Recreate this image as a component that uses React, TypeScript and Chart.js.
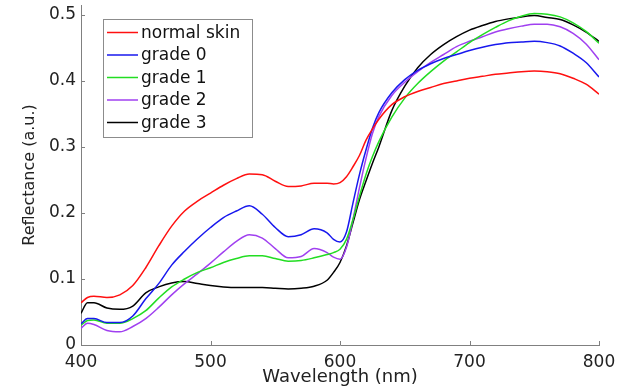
import React, { useEffect, useRef } from "react";
import { Chart, registerables } from "chart.js";

Chart.register(...registerables);

const wavelengths = [400, 405, 410, 420, 430, 440, 450, 460, 470, 480, 490, 500, 510, 520, 530, 540, 550, 560, 570, 580, 590, 595, 600, 605, 610, 615, 620, 625, 630, 640, 650, 660, 670, 680, 690, 700, 710, 720, 730, 740, 750, 760, 770, 780, 790, 800];

const normalSkin = [0.064, 0.072, 0.074, 0.072, 0.076, 0.090, 0.117, 0.150, 0.180, 0.203, 0.218, 0.230, 0.242, 0.252, 0.259, 0.258, 0.248, 0.240, 0.241, 0.245, 0.245, 0.244, 0.246, 0.255, 0.270, 0.287, 0.310, 0.327, 0.342, 0.364, 0.376, 0.384, 0.390, 0.396, 0.400, 0.404, 0.407, 0.410, 0.412, 0.414, 0.415, 0.414, 0.411, 0.404, 0.395, 0.380];

const grade0 = [0.032, 0.040, 0.040, 0.034, 0.034, 0.044, 0.070, 0.093, 0.121, 0.142, 0.161, 0.178, 0.193, 0.203, 0.211, 0.198, 0.178, 0.164, 0.167, 0.176, 0.170, 0.160, 0.156, 0.171, 0.215, 0.258, 0.295, 0.328, 0.352, 0.382, 0.402, 0.416, 0.426, 0.434, 0.440, 0.446, 0.451, 0.455, 0.458, 0.459, 0.460, 0.458, 0.453, 0.442, 0.428, 0.406];

const grade1 = [0.030, 0.037, 0.038, 0.033, 0.033, 0.040, 0.052, 0.071, 0.088, 0.100, 0.110, 0.117, 0.125, 0.131, 0.135, 0.135, 0.131, 0.127, 0.128, 0.132, 0.137, 0.140, 0.145, 0.160, 0.190, 0.225, 0.258, 0.285, 0.308, 0.345, 0.374, 0.396, 0.414, 0.430, 0.444, 0.458, 0.470, 0.481, 0.491, 0.498, 0.502, 0.501, 0.497, 0.488, 0.475, 0.457];

const grade2 = [0.025, 0.033, 0.031, 0.022, 0.020, 0.028, 0.040, 0.057, 0.076, 0.093, 0.108, 0.124, 0.141, 0.157, 0.167, 0.162, 0.146, 0.132, 0.134, 0.146, 0.140, 0.133, 0.130, 0.148, 0.190, 0.238, 0.282, 0.320, 0.346, 0.378, 0.398, 0.414, 0.428, 0.440, 0.452, 0.460, 0.467, 0.474, 0.479, 0.483, 0.486, 0.486, 0.482, 0.472, 0.456, 0.432];

const grade3 = [0.048, 0.064, 0.064, 0.056, 0.054, 0.059, 0.079, 0.088, 0.094, 0.096, 0.093, 0.090, 0.088, 0.087, 0.087, 0.087, 0.086, 0.085, 0.086, 0.089, 0.098, 0.110, 0.125, 0.150, 0.185, 0.220, 0.248, 0.275, 0.300, 0.355, 0.392, 0.420, 0.440, 0.455, 0.467, 0.477, 0.484, 0.490, 0.494, 0.497, 0.499, 0.496, 0.493, 0.485, 0.474, 0.460];

const seriesLabels = ["normal skin", "grade 0", "grade 1", "grade 2", "grade 3"];
const seriesValues = [normalSkin, grade0, grade1, grade2, grade3];
const seriesColors = ["#ff1010", "#1818ee", "#22dd22", "#a040f0", "#000000"];

const xTicks = [400, 500, 600, 700, 800];
const yTicks = [0, 0.1, 0.2, 0.3, 0.4, 0.5];

const FONT = "'DejaVu Sans', 'Liberation Sans', Arial, sans-serif";

const innerTicksPlugin = {
  id: "innerTicks",
  afterDraw(chart: any) {
    const { ctx, chartArea } = chart;
    const xs = chart.scales.x;
    const ys = chart.scales.y;
    const len = 4;
    ctx.save();
    ctx.strokeStyle = "#808080";
    ctx.lineWidth = 1;
    ctx.beginPath();
    xs.ticks.forEach((t: any) => {
      const px = Math.round(xs.getPixelForValue(t.value)) + 0.5;
      ctx.moveTo(px, chartArea.bottom);
      ctx.lineTo(px, chartArea.bottom - len);
    });
    ys.ticks.forEach((t: any) => {
      const py = Math.round(ys.getPixelForValue(t.value)) + 0.5;
      ctx.moveTo(chartArea.left, py);
      ctx.lineTo(chartArea.left + len, py);
    });
    ctx.stroke();
    ctx.restore();
  },
};

const boxLegendPlugin = {
  id: "boxLegend",
  afterDraw(chart: any, _args: any, opts: any) {
    const { ctx } = chart;
    const { left, top, width, height, rowStart, rowGap, lineStart, lineEnd, textX } = opts;
    ctx.save();
    ctx.fillStyle = "#ffffff";
    ctx.fillRect(left, top, width, height);
    ctx.strokeStyle = "#8c8c8c";
    ctx.lineWidth = 1;
    ctx.strokeRect(left + 0.5, top + 0.5, width, height);
    ctx.font = `17px ${FONT}`;
    ctx.textBaseline = "middle";
    ctx.textAlign = "left";
    chart.data.datasets.forEach((ds: any, i: number) => {
      const y = top + rowStart + i * rowGap;
      ctx.strokeStyle = ds.borderColor;
      ctx.lineWidth = 1.5;
      ctx.beginPath();
      ctx.moveTo(left + lineStart, y);
      ctx.lineTo(left + lineEnd, y);
      ctx.stroke();
      ctx.fillStyle = "#111111";
      ctx.fillText(ds.label, left + textX, y + 1);
    });
    ctx.restore();
  },
};

export default function App() {
  const canvasRef = useRef<HTMLCanvasElement | null>(null);

  useEffect(() => {
    if (!canvasRef.current) return;
    const datasets = seriesLabels.map((label, i) => ({
      label,
      data: wavelengths.map((w, j) => ({ x: w, y: seriesValues[i][j] })),
      borderColor: seriesColors[i],
      backgroundColor: seriesColors[i],
      borderWidth: 1.5,
      pointRadius: 0,
      fill: false,
      cubicInterpolationMode: "monotone" as const,
    }));

    const chart = new Chart(canvasRef.current, {
      type: "line",
      data: { datasets },
      plugins: [innerTicksPlugin, boxLegendPlugin],
      options: {
        animation: false,
        responsive: true,
        maintainAspectRatio: false,
        layout: { padding: { top: 5, right: 30, left: 0, bottom: 0 } },
        plugins: {
          legend: { display: false },
          tooltip: { enabled: false },
          boxLegend: {
            left: 103,
            top: 19,
            width: 149,
            height: 118,
            rowStart: 13.5,
            rowGap: 22.5,
            lineStart: 4,
            lineEnd: 35,
            textX: 38,
          },
        } as any,
        scales: {
          x: {
            type: "linear",
            min: 400,
            max: 800,
            afterBuildTicks: (scale: any) => {
              scale.ticks = xTicks.map((v) => ({ value: v }));
            },
            afterFit: (scale: any) => {
              scale.height = 43;
              scale.paddingLeft = 0;
              scale.paddingRight = 0;
            },
            grid: { display: false, drawTicks: false },
            border: { display: true, color: "#808080", width: 1 },
            ticks: {
              padding: 7,
              color: "#222222",
              font: { family: FONT, size: 17 },
              callback: (v: any) => String(v),
            },
            title: {
              display: true,
              text: "Wavelength (nm)",
              color: "#222222",
              font: { family: FONT, size: 18 },
              padding: { top: 0, bottom: 0 },
            },
          },
          y: {
            type: "linear",
            min: 0,
            max: 0.515,
            afterBuildTicks: (scale: any) => {
              scale.ticks = yTicks.map((v) => ({ value: v }));
            },
            afterFit: (scale: any) => {
              scale.width = 81;
              scale.paddingTop = 0;
              scale.paddingBottom = 0;
            },
            grid: { display: false, drawTicks: false },
            border: { display: true, color: "#808080", width: 1 },
            ticks: {
              padding: 5,
              color: "#222222",
              font: { family: FONT, size: 17 },
              callback: (v: any) => String(v),
            },
            title: {
              display: true,
              text: "Reflectance (a.u.)",
              color: "#222222",
              font: { family: FONT, size: 16 },
              padding: { top: 20, bottom: 0 },
            },
          },
        },
      },
    });
    return () => chart.destroy();
  }, []);

  return (
    <div style={{ position: "fixed", left: 0, top: 0, width: 629, height: 388, background: "#ffffff" }}>
      <canvas ref={canvasRef} />
    </div>
  );
}
